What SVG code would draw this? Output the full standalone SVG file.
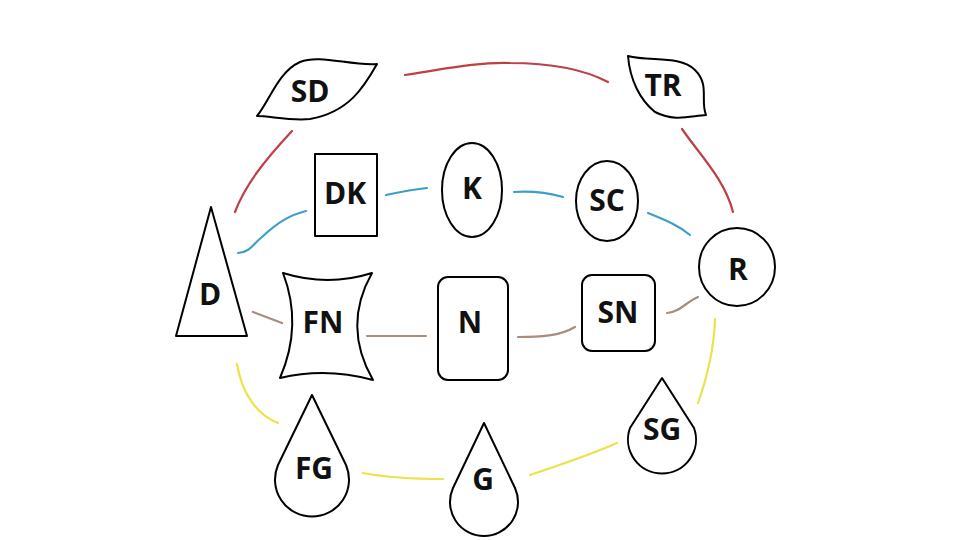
<svg xmlns="http://www.w3.org/2000/svg" width="960" height="540" viewBox="0 0 960 540">
<style>
.n{fill:#fff;stroke:#000;stroke-width:2;stroke-linejoin:round}
.t{font-family:"Open Sans","Liberation Sans",sans-serif;font-weight:700;font-size:30px;fill:#111;text-anchor:middle}
.c{fill:none;stroke-width:2.2;stroke-linecap:round}
.r{stroke:#be4046}.b{stroke:#3c9fc9}.w{stroke:#a88c7c}.y{stroke:#ece24a}
</style>
<rect width="960" height="540" fill="#fff"/>
<g id="connectors">
<path class="c r" d="M405,75 C450,68 480,62 510,63 C550,63 585,70 608,82"/>
<path class="c r" d="M682,129 C700,155 725,180 733,212"/>
<path class="c r" d="M292,131 C265,160 245,185 235,212"/>
<path class="c b" d="M238,253 C250,252 252,245 262,237 C278,222 290,215 306,211"/>
<path class="c b" d="M386,195 C400,192 410,190 427,188"/>
<path class="c b" d="M514,192 C530,191 545,192 563,197"/>
<path class="c b" d="M648,213 C665,220 678,225 690,235"/>
<path class="c w" d="M253,312 L282,323"/>
<path class="c w" d="M367,336 L426,336"/>
<path class="c w" d="M518,337 C540,337 560,336 575,327"/>
<path class="c w" d="M667,313 C680,312 686,302 698,297"/>
<path class="c y" d="M237,364 C242,395 258,415 278,423"/>
<path class="c y" d="M363,473 C390,478 420,479 443,479"/>
<path class="c y" d="M530,475 C560,465 590,455 617,443"/>
<path class="c y" d="M698,403 C708,375 714,350 715,319"/>
</g>
<g id="SD"><path class="n" d="M257,116 C270,100 278,72 300,62 C320,54 350,66 377,64 C365,85 350,112 310,119 C290,121 270,116 257,116 Z"/><text class="t" x="310" y="102">SD</text></g>
<g id="TR"><path class="n" d="M628,56 C650,62 680,55 695,70 C710,85 700,100 706,115 C690,116 675,122 655,112 C640,100 630,80 628,56 Z"/><text class="t" x="663" y="96">TR</text></g>
<g id="DK"><rect class="n" x="315" y="154" width="62" height="82"/><text class="t" x="345" y="204">DK</text></g>
<g id="K"><ellipse class="n" cx="472" cy="190" rx="30" ry="47"/><text class="t" x="472" y="199">K</text></g>
<g id="SC"><ellipse class="n" cx="607" cy="201" rx="31" ry="40"/><text class="t" x="607" y="211">SC</text></g>
<g id="R"><ellipse class="n" cx="737" cy="267" rx="38" ry="39"/><text class="t" x="738" y="280">R</text></g>
<g id="D"><path class="n" d="M211,207 L176,336 L247,336 Z"/><text class="t" x="210" y="305">D</text></g>
<g id="FN"><path class="n" d="M283,273 Q328,287 372,273 Q342,326 373,380 Q326,367 280,378 Q303,325 283,273 Z"/><text class="t" x="323" y="333">FN</text></g>
<g id="N"><rect class="n" x="438" y="277" width="70" height="103" rx="10"/><text class="t" x="470" y="333">N</text></g>
<g id="SN"><rect class="n" x="582" y="275" width="73" height="76" rx="10"/><text class="t" x="618" y="323">SN</text></g>
<g id="FG"><path class="n" d="M312,395 L278,465 A37,37 0 1 0 346,465 Z"/><text class="t" x="314" y="479">FG</text></g>
<g id="G"><path class="n" d="M484,423 L453,488 A34,34 0 1 0 515,488 Z"/><text class="t" x="483" y="490">G</text></g>
<g id="SG"><path class="n" d="M662,378 L630,428 A34,34 0 1 0 694,428 Z"/><text class="t" x="662" y="440">SG</text></g>
</svg>
